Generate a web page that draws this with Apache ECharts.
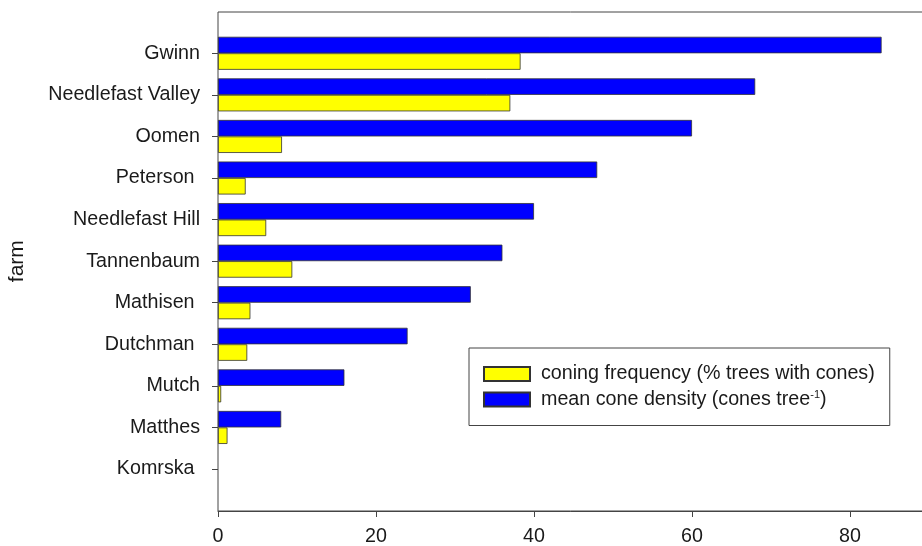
<!DOCTYPE html>
<html>
<head>
<meta charset="utf-8">
<script src="https://cdn.jsdelivr.net/npm/echarts@6/dist/echarts.min.js"></script>
<style>html,body{margin:0;padding:0;background:#fff;}#c{width:922px;height:546px;}</style>
</head>
<body>
<div id="c"></div>
<script>
const categories = ['Gwinn', 'Needlefast Valley', 'Oomen', 'Peterson ', 'Needlefast Hill', 'Tannenbaum', 'Mathisen ', 'Dutchman ', 'Mutch', 'Matthes', 'Komrska '];
const coningFrequency = [38.3, 37.0, 8.1, 3.5, 6.1, 9.4, 4.1, 3.7, 0.4, 1.2, 0];
const coneDensity = [84, 68, 60, 48, 40, 36, 32, 24, 16, 8, 0];
const xTicks = [0, 20, 40, 60, 80];
const freqName = 'coning frequency (% trees with cones)';
const densName = 'mean cone density (cones tree-1)';

const FONT = 'Arial, "Liberation Sans", sans-serif';
const TXT = '#1a1a1a';
const FS = 19.7;
const toItems = arr => arr.map(v => v === 0 ? { value: v, itemStyle: { borderWidth: 0 } } : v);

const chart = echarts.init(document.getElementById('c'));
chart.setOption({
  animation: false,
  backgroundColor: '#fff',
  textStyle: { fontFamily: FONT },
  grid: [
    { left: 218, top: 12, right: -86, bottom: 35, outerBoundsMode: 'none', containLabel: false,
      show: true, borderColor: '#444', borderWidth: 1, backgroundColor: 'transparent' },
    { left: 218, top: 32.5, right: -86, bottom: 56.2, outerBoundsMode: 'none', containLabel: false }
  ],
  xAxis: [
    { type: 'value', gridIndex: 0, min: 0, max: 100, interval: 20,
      axisLine: { show: true, lineStyle: { color: '#444', width: 1 } },
      axisTick: { show: true, inside: false, length: 6, lineStyle: { color: '#444' } },
      splitLine: { show: false },
      axisLabel: { fontSize: FS, color: TXT, fontFamily: FONT, margin: 16,
        formatter: v => xTicks.includes(v) ? String(v) : '' } },
    { type: 'value', gridIndex: 1, min: 0, max: 100, show: false }
  ],
  yAxis: [
    { type: 'value', gridIndex: 0, show: false, min: 0, max: 1 },
    { type: 'category', gridIndex: 1, data: categories, inverse: true,
      name: 'farm', nameLocation: 'middle', nameGap: 190,
      nameTextStyle: { fontSize: 21, color: TXT, fontFamily: FONT },
      axisLine: { show: false },
      axisTick: { show: true, alignWithLabel: true, length: 6, lineStyle: { color: '#444' } },
      axisLabel: { fontSize: FS, color: TXT, fontFamily: FONT, margin: 18 } }
  ],
  legend: {
    left: 469, top: 348, orient: 'vertical', align: 'left',
    padding: [16, 15, 16, 14],
    borderColor: '#444', borderWidth: 1, backgroundColor: '#fff',
    itemWidth: 46, itemHeight: 14, itemGap: 5.5,
    selectedMode: false,
    data: [{ name: freqName, icon: 'rect' }, { name: densName, icon: 'rect' }],
    formatter: function (name) {
      return name === densName ? 'mean cone density (cones tree{sup|-1})' : name;
    },
    textStyle: { fontSize: FS, color: TXT, fontFamily: FONT, lineHeight: 20, padding: [0, 0, 0, 6],
      rich: { sup: { fontSize: 11, color: TXT, fontFamily: FONT, verticalAlign: 'top', lineHeight: 20 } } }
  },
  series: [
    { name: densName, type: 'bar', xAxisIndex: 1, yAxisIndex: 1, data: toItems(coneDensity),
      barWidth: 16.5, barGap: '0%',
      itemStyle: { color: '#0000ff', borderColor: '#333', borderWidth: 0.8 } },
    { name: freqName, type: 'bar', xAxisIndex: 1, yAxisIndex: 1, data: toItems(coningFrequency),
      barWidth: 16.5, barGap: '0%',
      itemStyle: { color: '#ffff00', borderColor: '#333', borderWidth: 0.8 } }
  ]
});
</script>
</body>
</html>
